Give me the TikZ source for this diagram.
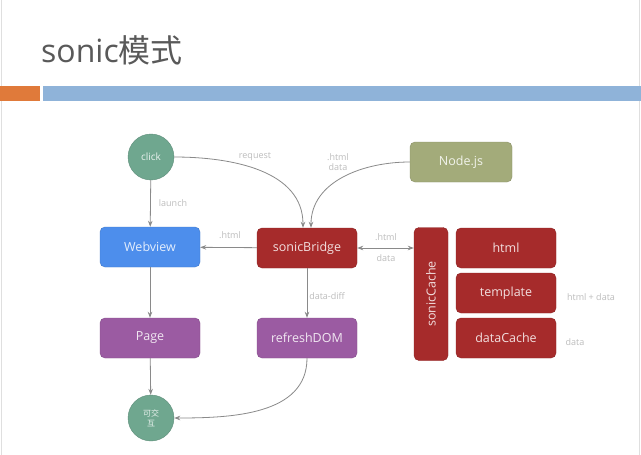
\documentclass[tikz,border=0pt]{standalone}
\usepackage{fontspec}
\setmainfont{Open Sans}
\newfontfamily\cjk{Noto Sans CJK SC}
\usetikzlibrary{positioning}
\usetikzlibrary{arrows.meta}

\definecolor{teal}{HTML}{6FA78F}
\definecolor{webblue}{HTML}{4D8EEC}
\definecolor{brick}{HTML}{A62B2B}
\definecolor{olive}{HTML}{A3AB7A}
\definecolor{plum}{HTML}{9B5BA2}
\definecolor{barblue}{HTML}{8FB3D9}
\definecolor{barorange}{HTML}{E07A3A}
\definecolor{linegray}{HTML}{8A8A8A}
\definecolor{labelgray}{HTML}{BDBDBD}

\tikzset{
    box/.style={draw=#1!85!black, fill=#1, rounded corners=5pt, minimum width=100pt,
        minimum height=40pt, inner sep=0pt, text=white!85!#1, font=\fontsize{12.5}{14}\selectfont},
    dot/.style={circle, draw=teal!85!black, fill=teal, minimum size=46pt, inner sep=0pt,
        text=white!85!teal, align=center},
    flow/.style={draw=linegray, line width=0.8pt, -{Stealth[length=6pt,width=4.5pt]}},
    lbl/.style={text=labelgray, font=\fontsize{9}{10}\selectfont, align=center, inner sep=0pt},
}

\begin{document}
\begin{tikzpicture}[x=1pt,y=-1pt]

    \useasboundingbox (0,0) rectangle (641,455);
    \fill[white] (0,0) rectangle (641,455);
    \draw[gray!25, line width=1pt] (1.5,0) -- (1.5,455);
    \draw[gray!25, line width=1pt] (639.5,0) -- (639.5,455);

    % title and bars
    \node[anchor=west, inner sep=0pt, text=black!65, font=\fontsize{32}{34}\selectfont] (title) at (41,50) {sonic{\cjk 模式}};
    \fill[barorange] (0,86) rectangle (40,101);
    \fill[barblue] (43,86) rectangle (641,101);

    \node[dot, font=\fontsize{10}{11}\selectfont] (click) at (151,157) {click};
    \node[box=webblue] (webview) at (150,247) {Webview};
    \node[box=brick] (bridge) at (307,248) {sonicBridge};
    \node[box=olive, minimum width=102pt] (nodejs) at (461,162) {Node.js};
    \node[box=brick, minimum width=133pt, minimum height=34pt, rotate=90] (cache) at (431,294) {sonicCache};
    \node[box=brick] (html) at (506,248) {html};
    \node[box=brick] (template) at (506,293) {template};
    \node[box=brick] (datacache) at (506,338) {dataCache};
    \node[box=plum] (page) at (150,338) {Page};
    \node[box=plum] (refresh) at (307,338) {refreshDOM};
    \node[dot, font=\cjk\fontsize{8}{10}\selectfont] (interact) at (151,418) {可交\\互};

    \draw[flow] (click.east) to[out=0,in=90] ([xshift=-4pt]bridge.north);
    \draw[flow] (nodejs.west) to[out=180,in=90] ([xshift=4pt]bridge.north);
    \draw[flow] (click) -- (webview);
    \draw[flow] (bridge) -- (webview);
    \draw[flow, {Stealth[length=6pt,width=4.5pt]}-{Stealth[length=6pt,width=4.5pt]}] (bridge.east) -- (bridge.east -| cache.north);
    \draw[flow] (bridge) -- (refresh);
    \draw[flow] (webview) -- (page);
    \draw[flow] (page) -- (interact);
    \draw[flow] (refresh.south) to[out=-90,in=0] (interact.east);

    \node[lbl] (lrequest) at (255,157) {request};
    \node[lbl] (lnode) at (338,162) {.html\\data};
    \node[lbl] (llaunch) at (173,203) {launch};
    \node[lbl] (lhtml) at (230,235) {.html};
    \node[lbl] (lcachetop) at (386,237) {.html};
    \node[lbl] (lcachebot) at (386,258) {data};
    \node[lbl] (ldiff) at (327,296) {data-diff};
    \node[lbl] (ltemplate) at (591,297) {html + data};
    \node[lbl] (ldata) at (575,342) {data};

\end{tikzpicture}
\end{document}
